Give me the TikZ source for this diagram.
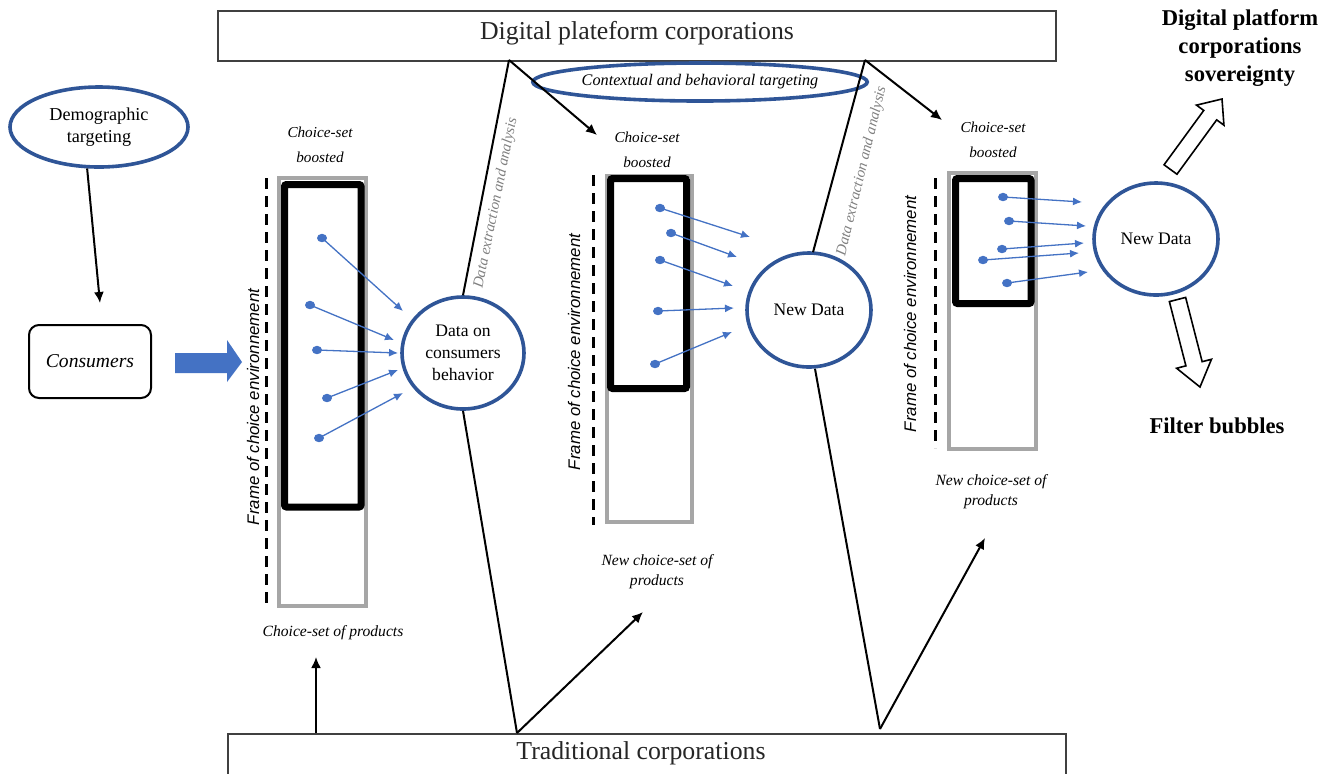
\documentclass[tikz,border=0pt]{standalone}
\usepackage{fontspec}
\setmainfont{Liberation Serif}
\newfontfamily\framefont{Liberation Sans}
\usetikzlibrary{arrows.meta,shapes.geometric,calc}
\definecolor{dblue}{HTML}{2F5597}
\definecolor{lblue}{HTML}{4472C4}
\definecolor{rgray}{HTML}{A6A6A6}
\definecolor{tgray}{HTML}{808080}
\definecolor{bordergray}{HTML}{404040}
\tikzset{
  bluecirc/.style={ellipse, draw=dblue, line width=1.8pt, inner sep=0pt, align=center, font=\fontsize{8.8}{11}\selectfont},
  corpbox/.style={draw=bordergray, line width=0.8pt, rectangle, inner sep=0pt},
  corptext/.style={font=\fontsize{12.9}{15}\selectfont, text=black!85},
  graybox/.style={draw=rgray, line width=2pt},
  blackbox/.style={draw=black, line width=3.5pt, rounded corners=1pt},
  framedash/.style={line width=1.5pt, dash pattern=on 5.5pt off 3.5pt},
  conn/.style={line width=1pt, -{Latex[length=5.5pt,width=5pt]}},
  plainconn/.style={line width=1pt},
  bluearr/.style={lblue, line width=0.65pt, -{Latex[length=4.5pt,width=4pt]}},
  bluedot/.style={fill=lblue},
  boostlbl/.style={font=\fontsize{7.6}{12.5}\selectfont\itshape, align=center},
  prodlbl/.style={font=\fontsize{7.8}{10}\selectfont\itshape, align=center},
  framelbl/.style={font=\framefont\fontsize{8.4}{10}\selectfont\itshape, rotate=90},
  extrlbl/.style={font=\fontsize{7.5}{9}\selectfont\itshape, text=tgray, inner sep=1pt},
  boldlbl/.style={font=\fontsize{11.3}{14}\selectfont\bfseries, align=center},
  hollow/.style={draw=black, line width=0.8pt, fill=white}
}
\begin{document}
\begin{tikzpicture}[x=0.5pt,y=-0.5pt]
\useasboundingbox (0,0) rectangle (1338,773);
\clip (0,0) rectangle (1338,773);
\fill[white] (0,0) rectangle (1338,773);

% corporations boxes
\node[corpbox, minimum width=419pt, minimum height=25pt, anchor=north] (digital) at (637,10) {};
\node[corptext] (digitaltext) at (637,33) {Digital plateform corporations};
\node[corpbox, minimum width=419pt, minimum height=40pt, anchor=north] (trad) at (647,733) {};
\node[corptext] (tradtext) at (641,753) {Traditional corporations};

% left part
\node[ellipse, draw=dblue, line width=1.8pt, inner sep=0pt, minimum width=89pt, minimum height=40pt, align=center, font=\fontsize{9.1}{11}\selectfont] (dem) at (99,127) {Demographic\\targeting};
\node[draw=black, line width=1pt, rounded corners=5pt, minimum width=61pt, minimum height=36.5pt, font=\fontsize{9.8}{11}\selectfont\itshape] (cons) at (90,361.5) {Consumers};
\coordinate (demend) at (100,303);
\draw[conn] (dem.254.6) -- (demend);
\fill[lblue] (175,353) -- (227,353) -- (227,340) -- (242,362) -- (227,382) -- (227,373) -- (175,373) -- cycle;

% panel 1
\draw[framedash] (266,178) -- (266,604);
\draw[graybox] (279,178) rectangle (366,606);
\draw[blackbox] (284.5,184.5) rectangle (361,507);
\node[framelbl] (fr1) at (253,407) {Frame of choice environnement};
\node[boostlbl] (bo1) at (320,145) {Choice-set\\boosted};
\node[prodlbl] (pr1) at (333,633) {Choice-set of products};
\node[bluecirc, minimum width=61pt, minimum height=56pt] (c1) at (463,353) {Data on\\consumers\\behavior};
\foreach \dx/\dy/\tx/\ty [count=\i] in {322/238/403/311, 310/305/394/340, 317/350/398/353, 327/398/398/370, 319/438/403/393}{
  \coordinate (d1\i) at (\dx,\dy);
  \coordinate (t1\i) at (\tx,\ty);
  \draw[bluearr] (d1\i) -- (t1\i);
  \fill[bluedot] (d1\i) ellipse [x radius=5, y radius=4.2];
}

% panel 2
\draw[framedash] (593,175) -- (593,525);
\draw[graybox] (606.5,175.5) rectangle (691.5,521.5);
\draw[blackbox] (610.5,178.5) rectangle (686.5,388.5);
\node[framelbl] (fr2) at (574,352) {Frame of choice environnement};
\node[boostlbl] (bo2) at (647,150) {Choice-set\\boosted};
\node[prodlbl] (pr2) at (657,572) {New choice-set of\\products};
\node[bluecirc, minimum width=62pt, minimum height=57pt] (c2) at (809,310) {New Data};
\foreach \dx/\dy/\tx/\ty [count=\i] in {660/208/750/237, 671/233/737/257, 660/260/733/286, 658/311/734/308, 655/364/732/332}{
  \coordinate (d2\i) at (\dx,\dy);
  \coordinate (t2\i) at (\tx,\ty);
  \draw[bluearr] (d2\i) -- (t2\i);
  \fill[bluedot] (d2\i) ellipse [x radius=5, y radius=4.2];
}

% panel 3
\draw[framedash] (935,178) -- (935,448);
\draw[graybox] (949,173) rectangle (1036,449);
\draw[blackbox] (955.5,178.5) rectangle (1031,303.5);
\node[framelbl] (fr3) at (910,314) {Frame of choice environnement};
\node[boostlbl] (bo3) at (993,140) {Choice-set\\boosted};
\node[prodlbl] (pr3) at (991,492) {New choice-set of\\products};
\node[bluecirc, minimum width=62pt, minimum height=56pt] (c3) at (1156,239) {New Data};
\foreach \dx/\dy/\tx/\ty [count=\i] in {1003/197/1082/202, 1009/221/1086/226, 1002/249/1084/243, 983/260/1079/253, 1007/283/1088/272}{
  \coordinate (d3\i) at (\dx,\dy);
  \coordinate (t3\i) at (\tx,\ty);
  \draw[bluearr] (d3\i) -- (t3\i);
  \fill[bluedot] (d3\i) ellipse [x radius=5, y radius=4.2];
}

% contextual targeting
\node[ellipse, draw=dblue, line width=1.8pt, inner sep=0pt, minimum width=160pt, minimum height=19pt, font=\fontsize{8.1}{10}\selectfont\itshape] (ctx) at (700,82) {Contextual and behavioral targeting};

% data extraction connectors
\coordinate (v1) at (509,60);
\coordinate (v2) at (865,60);
\coordinate (w1) at (517,733);
\coordinate (w2) at (880,729);
\coordinate (a1) at (597,135);
\coordinate (a2) at (942,120);
\coordinate (b1) at (643,612);
\coordinate (b2) at (985,538);
\coordinate (tradup) at (316,733);
\coordinate (tradupend) at (316,657);
\draw[plainconn] (c1.north) -- (v1);
\draw[conn] (v1) -- (a1);
\draw[plainconn] (c2.north) ++(4,1) -- (v2);
\draw[conn] (v2) -- (a2);
\draw[plainconn] (c1.south) -- (w1);
\draw[conn] (w1) -- (b1);
\draw[plainconn] (c2.south) ++(6,0) -- (w2);
\draw[conn] (w2) -- (b2);
\draw[conn] (tradup) -- (tradupend);
\node[extrlbl, rotate=78.6] (ex1) at (496,203) {Data extraction and analysis};
\node[extrlbl, rotate=76.5] (ex2) at (862,171) {Data extraction and analysis};

% outcomes
\node[boldlbl] (sov) at (1240,48) {Digital platform\\corporations\\sovereignty};
\node[boldlbl] (fb) at (1217,426) {Filter bubbles};
\coordinate (ua1) at (1170.5,169.5);
\coordinate (ua2) at (1222,99);
\coordinate (uah) at ($(ua2)!10pt!(ua1)$);
\draw[hollow] ($(ua1)!4pt!90:(ua2)$) -- ($(uah)!4pt!90:(ua2)$) -- ($(uah)!8.5pt!90:(ua2)$) -- (ua2) -- ($(uah)!8.5pt!-90:(ua2)$) -- ($(uah)!4pt!-90:(ua2)$) -- ($(ua1)!4pt!-90:(ua2)$) -- cycle;
\coordinate (la1) at (1177.5,299.5);
\coordinate (la2) at (1200,387);
\coordinate (lah) at ($(la2)!12pt!(la1)$);
\draw[hollow] ($(la1)!4.2pt!90:(la2)$) -- ($(lah)!4.2pt!90:(la2)$) -- ($(lah)!9pt!90:(la2)$) -- (la2) -- ($(lah)!9pt!-90:(la2)$) -- ($(lah)!4.2pt!-90:(la2)$) -- ($(la1)!4.2pt!-90:(la2)$) -- cycle;
\end{tikzpicture}
\end{document}
